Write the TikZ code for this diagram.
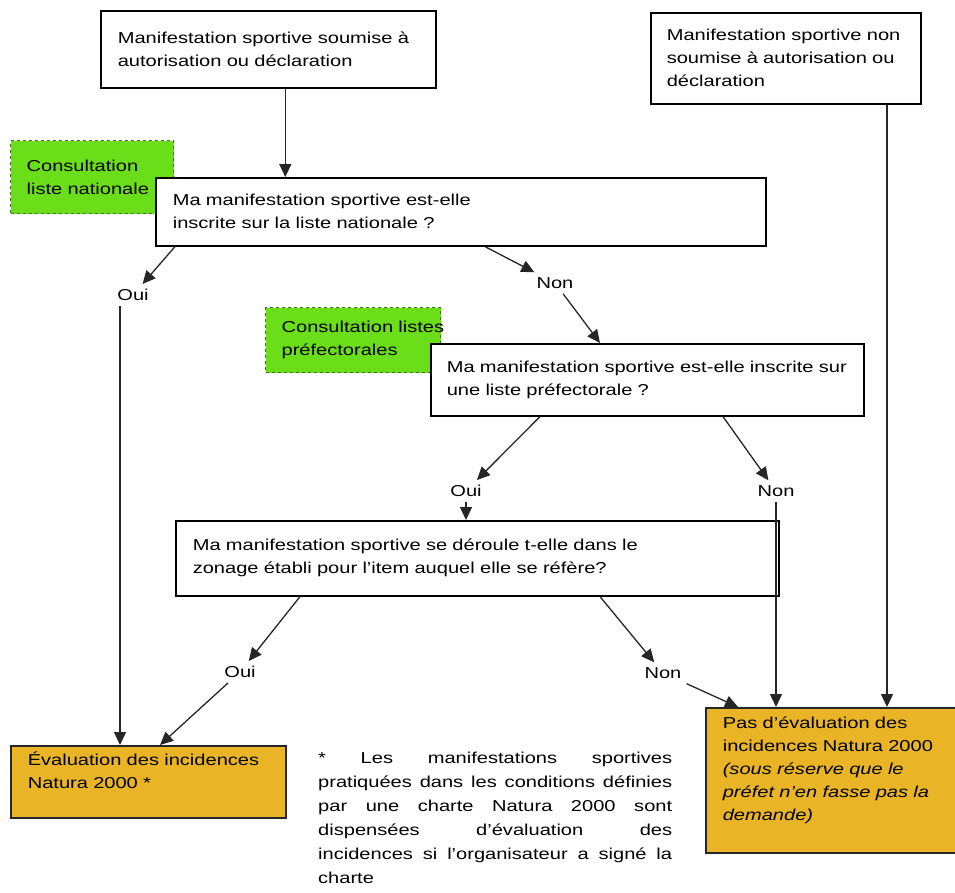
\documentclass[tikz,border=0pt]{standalone}
\usepackage{fontspec}
\setmainfont[FakeStretch=1.27]{Liberation Sans}
\usetikzlibrary{positioning,arrows.meta}
\definecolor{vert}{RGB}{106,222,24}
\definecolor{vertfonce}{RGB}{60,115,20}
\definecolor{ocre}{RGB}{233,181,38}

\begin{document}
\begin{tikzpicture}[x=1pt,y=-1pt,
    font=\fontsize{15.8}{23}\selectfont,
    box/.style={draw, line width=1.6pt, fill=white, anchor=north west, align=left, inner xsep=17pt, inner ysep=4pt},
    consult/.style={box, dashed, line width=1.3pt, draw=vertfonce, fill=vert, inner xsep=16pt},
    issue/.style={box, draw=black!85, fill=ocre},
    rep/.style={inner sep=5pt},
    arr/.style={-{Triangle[length=13pt,width=12pt]}, draw=black!85, line width=1.3pt}]
    \useasboundingbox (0,0) rectangle (955,892);
    % entry boxes
    \node[box, text width=301pt, minimum height=77pt] (A) at (100,10)
        {\mbox{Manifestation sportive soumise à}\\autorisation ou déclaration};
    \node[box, text width=238pt, minimum height=91pt, inner xsep=16pt] (B) at (650,12)
        {\mbox{Manifestation sportive non}\\\mbox{soumise à autorisation ou}\\déclaration};
    % national list
    \node[consult, text width=131pt, minimum height=73pt] (G1) at (10,140)
        {Consultation\\\mbox{liste nationale}};
    \node[box, text width=576pt, minimum height=68pt] (C) at (155,177)
        {Ma manifestation sportive est-elle\\inscrite sur la liste nationale ?};
    % prefectoral lists
    \node[consult, text width=143pt, minimum height=65pt] (G2) at (265,307)
        {\mbox{Consultation listes}\\préfectorales};
    \node[box, text width=401pt, minimum height=72pt, inner xsep=16pt] (D) at (430,343)
        {\mbox{Ma manifestation sportive est-elle inscrite sur}\\une liste préfectorale ?};
    % zoning
    \node[box, text width=569pt, minimum height=75pt] (E) at (175,520)
        {Ma manifestation sportive se déroule t-elle dans le\\zonage établi pour l’item auquel elle se réfère?};
    % results
    \node[issue, text width=241pt, minimum height=72pt] (eval) at (10,745)
        {\mbox{Évaluation des incidences}\\Natura 2000 *\\\mbox{}};
    \node[issue, text width=216pt, minimum height=145pt] (pas) at (705,707)
        {\mbox{Pas d’évaluation des}\\\mbox{incidences Natura 2000}\\\itshape \mbox{(sous réserve que le}\\\mbox{préfet n’en fasse pas la}\\demande)\\\mbox{}};
    % answers
    \node[rep] (oui1) at (133,295) {Oui};
    \node[rep] (non1) at (555,283) {Non};
    \node[rep] (oui2) at (466,491) {Oui};
    \node[rep] (non2) at (776,491) {Non};
    \node[rep] (oui3) at (240,672) {Oui};
    \node[rep] (non3) at (663,673) {Non};
    % note
    \node[anchor=north west, inner sep=0pt, text width=354pt, align=justify,
          font=\fontsize{15.8}{24}\selectfont] (note) at (318,752)
        {* Les manifestations sportives\linebreak pratiquées dans les conditions définies\linebreak par une charte Natura 2000 sont\linebreak dispensées d’évaluation des\linebreak incidences si l’organisateur a signé la\linebreak charte};
    % connectors
    \draw[arr] ([xshift=17pt]A.south) -- ([xshift=17pt]A.south |- C.north);
    \draw[arr] ([xshift=20pt]C.south west) -- (oui1);
    \draw[arr] ([xshift=330pt]C.south west) -- (non1);
    \draw[arr] (non1) -- ([xshift=170pt]D.north west);
    \draw[arr] ([xshift=110pt]D.south west) -- (oui2);
    \draw[arr] ([xshift=293pt]D.south west) -- (non2);
    \draw[arr] (oui2) -- (oui2 |- E.north);
    \draw[arr] ([xshift=125pt]E.south west) -- (oui3);
    \draw[arr] ([xshift=425pt]E.south west) -- (non3);
    \draw[arr] (oui3) -- ([xshift=150pt]eval.north west);
    \draw[arr] ([xshift=110pt]eval.north west |- oui1.south) -- ([xshift=110pt]eval.north west);
    \draw[arr] (non3) -- ([xshift=33pt]pas.north west);
    \draw[arr] (non2) -- (non2 |- pas.north);
    \draw[arr] ([xshift=237pt]B.south west) -- ([xshift=237pt]B.south west |- pas.north);
\end{tikzpicture}
\end{document}
